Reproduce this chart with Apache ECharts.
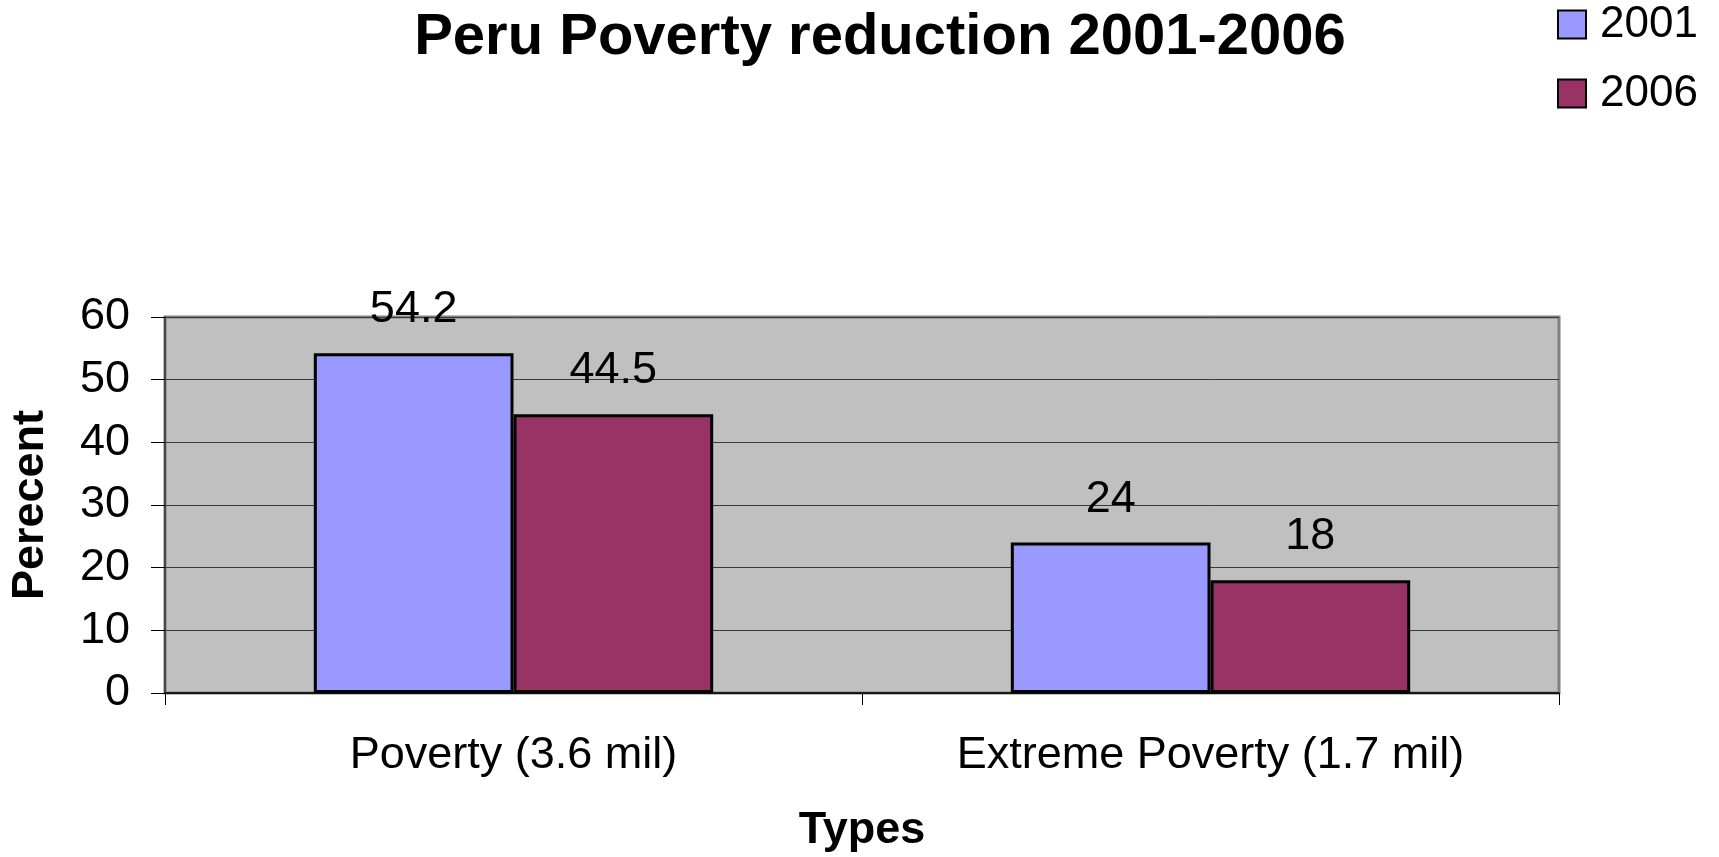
<!DOCTYPE html>
<html>
<head>
<meta charset="utf-8">
<title>Peru Poverty reduction 2001-2006</title>
<script src="https://cdn.jsdelivr.net/npm/echarts@6/dist/echarts.min.js"></script>
<style>
  html, body { margin: 0; padding: 0; background: #ffffff; }
  #chart { width: 1719px; height: 857px; }
</style>
</head>
<body>
<div id="chart"></div>
<script>
// Poverty rates in Peru, by type, for 2001 and 2006
const categories = ['Poverty (3.6 mil)', 'Extreme Poverty (1.7 mil)'];
const seriesNames = ['2001', '2006'];
const values2001 = [54.2, 24];
const values2006 = [44.5, 18];
const yTicks = { min: 0, max: 60, interval: 10 };

const FONT = '"Liberation Sans", Arial, sans-serif';
const colors = { '2001': '#9999FF', '2006': '#993366' };

const chart = echarts.init(document.getElementById('chart'), null, { renderer: 'canvas' });

function barSeries(name, data) {
  return {
    name: name,
    type: 'bar',
    data: data,
    barGap: '0%',
    barCategoryGap: '42.7%',
    itemStyle: { color: colors[name], borderColor: '#000000', borderWidth: 3 },
    label: {
      show: true,
      position: 'top',
      distance: 21,
      color: '#000000',
      fontFamily: FONT,
      fontSize: 45
    },
    emphasis: { disabled: true }
  };
}

chart.setOption({
  animation: false,
  backgroundColor: '#ffffff',
  title: {
    text: 'Peru Poverty reduction 2001-2006',
    left: 875,
    top: 4,
    textAlign: 'center',
    textStyle: { fontFamily: FONT, fontWeight: 'bold', fontSize: 58, color: '#000000' }
  },
  legend: {
    orient: 'vertical',
    left: 1552,
    top: -3,
    itemWidth: 28,
    itemHeight: 28,
    itemGap: 24,
    icon: 'rect',
    selectedMode: false,
    textStyle: { fontFamily: FONT, fontSize: 44, color: '#000000', padding: [0, 0, 0, 9], lineHeight: 45 },
    data: seriesNames
  },
  grid: {
    left: 162,
    top: 317,
    width: 1397,
    height: 376,
    show: true,
    backgroundColor: '#C0C0C0',
    borderColor: '#808080',
    borderWidth: 3
  },
  xAxis: {
    type: 'category',
    data: categories,
    name: 'Types',
    nameLocation: 'middle',
    nameGap: 115,
    nameTextStyle: { fontFamily: FONT, fontWeight: 'bold', fontSize: 45, color: '#000000' },
    axisLine: { show: true, lineStyle: { color: '#000000', width: 1.5 } },
    axisTick: { show: true, length: 12, lineStyle: { color: '#000000', width: 1 } },
    axisLabel: { margin: 40, fontFamily: FONT, fontSize: 45, color: '#000000' }
  },
  yAxis: {
    type: 'value',
    min: yTicks.min,
    max: yTicks.max,
    interval: yTicks.interval,
    name: 'Perecent',
    nameLocation: 'middle',
    nameGap: 112,
    nameTextStyle: { fontFamily: FONT, fontWeight: 'bold', fontSize: 45, color: '#000000' },
    axisLine: { show: true, lineStyle: { color: '#333333', width: 1.5 } },
    axisTick: { show: true, length: 14, lineStyle: { color: '#000000', width: 1 } },
    axisLabel: { margin: 35, fontFamily: FONT, fontSize: 45, color: '#000000' },
    splitLine: { show: true, lineStyle: { color: '#3a3a3a', width: 1 } }
  },
  series: [
    barSeries('2001', values2001),
    barSeries('2006', values2006)
  ]
});
</script>
</body>
</html>
